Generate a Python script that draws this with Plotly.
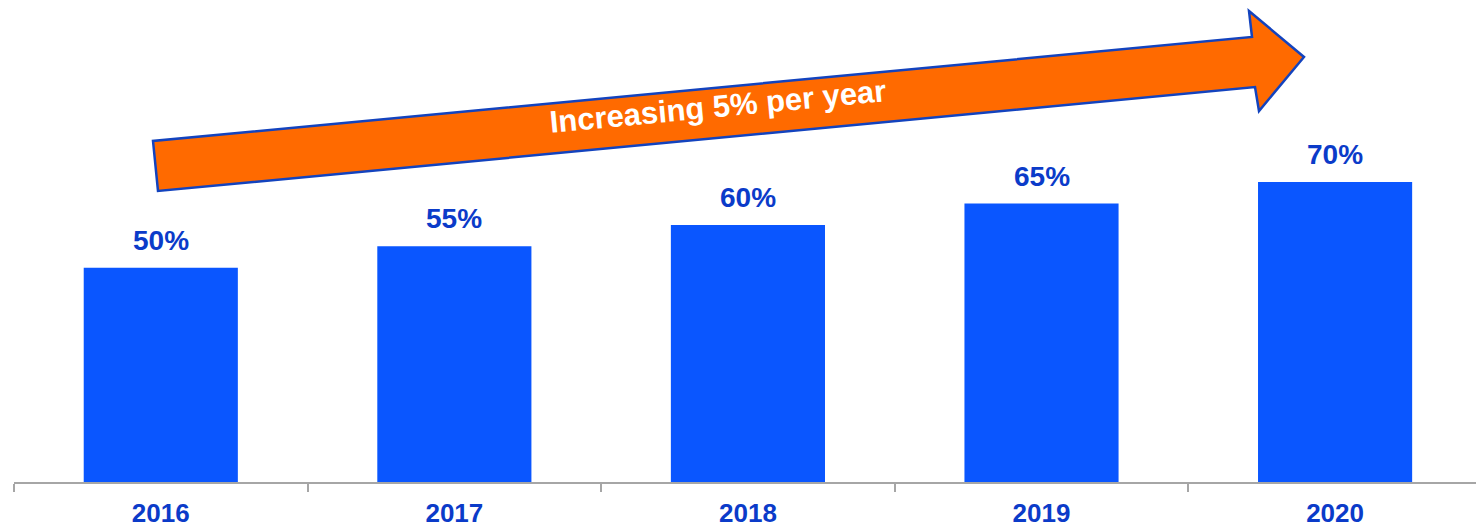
import plotly.graph_objects as go

years = ["2016", "2017", "2018", "2019", "2020"]
shares = [50, 55, 60, 65, 70]
labels = [f"{v}%" for v in shares]
arrow_text = "Increasing 5% per year"

BAR_BLUE = "#0A56FF"
LABEL_BLUE = "#0B3BC9"
ORANGE = "#FF6A00"
EDGE_BLUE = "#1343BE"

W, H = 1476, 527
ML, MR, MT, MB = 14, 0, 0, 45
PW, PH = W - ML - MR, H - MT - MB


def to_paper(px, py):
    return (px - ML) / PW, (H - MB - py) / PH


fig = go.Figure()
fig.add_trace(go.Bar(
    x=years, y=shares, width=0.525,
    marker=dict(color=BAR_BLUE, line=dict(width=0)),
    hoverinfo="skip",
))

# Value labels above each bar (category index used as the x position)
for i, (v, lab) in enumerate(zip(shares, labels)):
    fig.add_annotation(
        x=i, y=v, xref="x", yref="y", text=f"<b>{lab}</b>", showarrow=False,
        yanchor="bottom", yshift=10,
        font=dict(family="Liberation Sans, Arial", size=28, color=LABEL_BLUE),
    )

# Trend arrow drawn over the bars
outline = [(158, 191), (153, 141), (1252, 37), (1249, 11),
           (1304, 57), (1259, 111), (1255, 87)]
pts = [to_paper(px, py) for px, py in outline]
path = "M " + " L ".join(f"{x:.5f},{y:.5f}" for x, y in pts) + " Z"
fig.add_shape(type="path", xref="paper", yref="paper", path=path,
              fillcolor=ORANGE, line=dict(color=EDGE_BLUE, width=2.5), layer="above")

tx, ty = to_paper(718, 106)
fig.add_annotation(
    xref="paper", yref="paper", x=tx, y=ty, text=f"<b>{arrow_text}</b>",
    showarrow=False, textangle=-5.4, xanchor="center", yanchor="middle",
    font=dict(family="Liberation Sans, Arial", size=31, color="white"),
)

fig.update_layout(
    width=W, height=H,
    margin=dict(l=ML, r=MR, t=MT, b=MB, autoexpand=False),
    plot_bgcolor="white", paper_bgcolor="white",
    showlegend=False, bargap=0.475,
)
fig.update_xaxes(
    type="category", range=[-0.5, 4.48], automargin=False,
    showline=True, linecolor="#A6A6A6", linewidth=1.5,
    ticks="outside", tickson="boundaries", ticklen=8, tickcolor="#A6A6A6", tickwidth=1.5,
    tickfont=dict(family="Liberation Sans, Arial", size=26, color=LABEL_BLUE),
    tickprefix="<b>", ticksuffix="</b>", showgrid=False, ticklabelstandoff=7,
)
fig.update_yaxes(range=[0, 112.5], showticklabels=False, showline=False,
                 showgrid=False, zeroline=False, ticks="", automargin=False)

fig.write_html("out.html")
